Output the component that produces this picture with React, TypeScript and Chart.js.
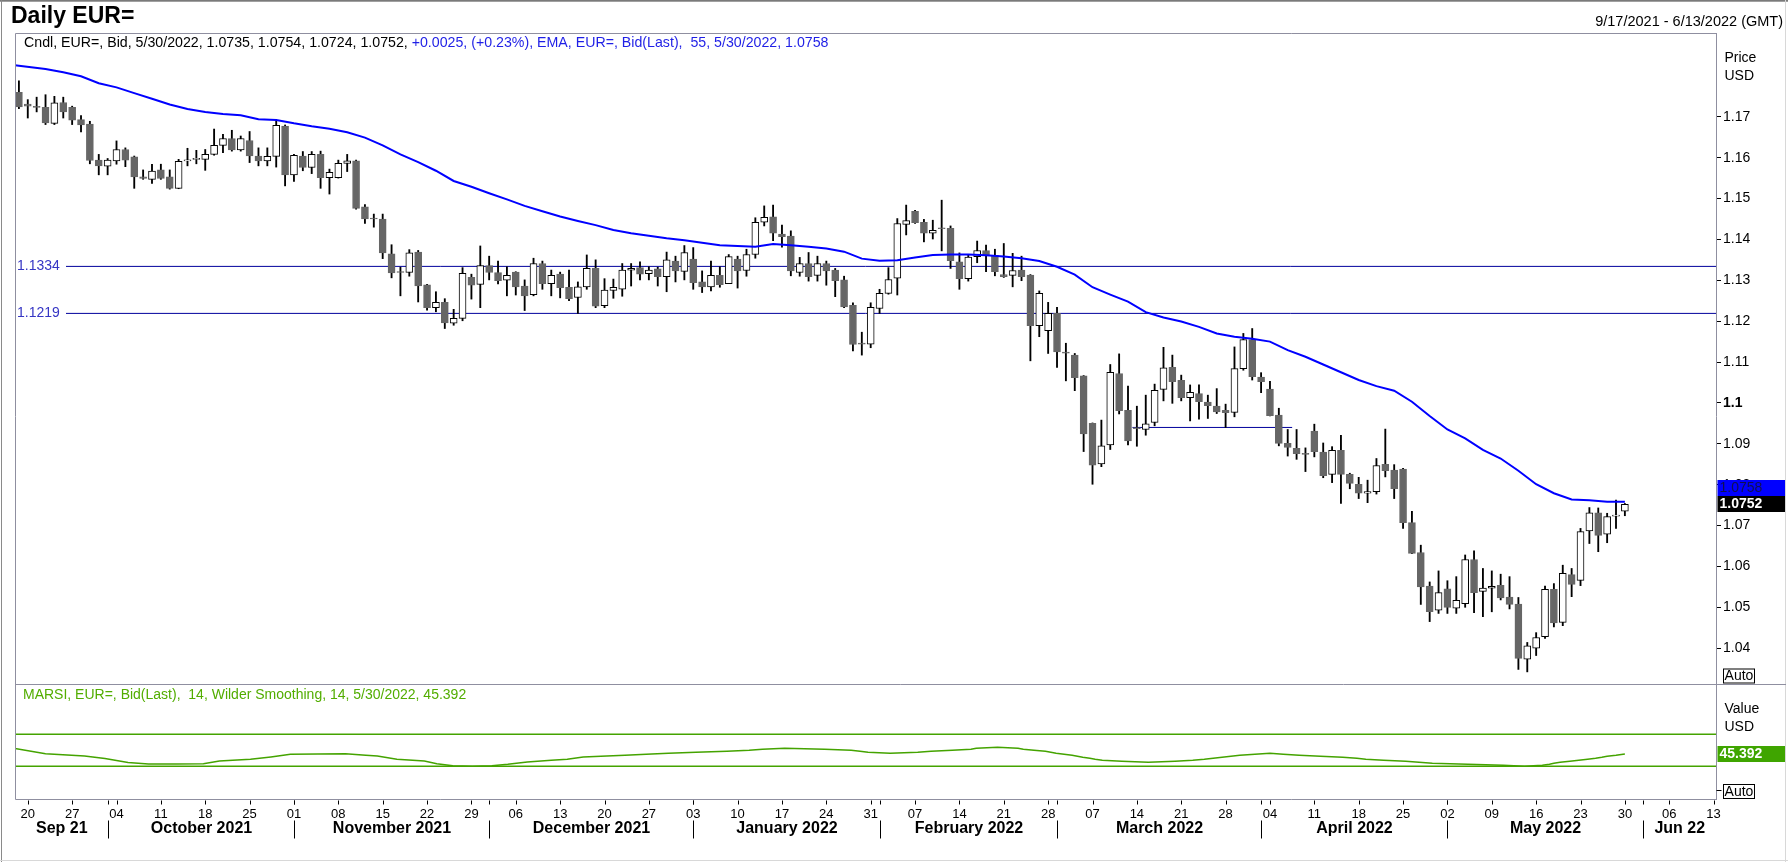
import { useEffect, useRef } from 'react';
import { Chart, registerables } from 'chart.js';

Chart.register(...registerables);

const W = 1788;
const H = 862;
const FONT = '"Liberation Sans", Arial, Helvetica, sans-serif';

// ---------- data (daily candles, index 0 = 9/17/2021 ... 181 = 5/30/2022) ----------
const opens = [
  1.1760, 1.1731, 1.1724, 1.1723, 1.1684, 1.1735, 1.1723, 1.1693, 1.1682, 1.1594,
  1.1579, 1.1592, 1.1620, 1.1602, 1.1553, 1.1547, 1.1570, 1.1553, 1.1525, 1.1592,
  1.1596, 1.1596, 1.1608, 1.1630, 1.1647, 1.1619, 1.1642, 1.1604, 1.1592, 1.1603,
  1.1677, 1.1558, 1.1604, 1.1576, 1.1608, 1.1551, 1.1551, 1.1586, 1.1592, 1.1480,
  1.1452, 1.1450, 1.1365, 1.1321, 1.1319, 1.1369, 1.1289, 1.1233, 1.1246, 1.1195,
  1.1207, 1.1307, 1.1290, 1.1336, 1.1319, 1.1300, 1.1320, 1.1286, 1.1265, 1.1341,
  1.1292, 1.1315, 1.1283, 1.1258, 1.1284, 1.1329, 1.1238, 1.1275, 1.1278, 1.1325,
  1.1331, 1.1316, 1.1328, 1.1309, 1.1347, 1.1322, 1.1352, 1.1296, 1.1284, 1.1312,
  1.1292, 1.1352, 1.1324, 1.1363, 1.1442, 1.1455, 1.1413, 1.1408, 1.1319, 1.1341,
  1.1312, 1.1341, 1.1325, 1.1301, 1.1239, 1.1145, 1.1144, 1.1231, 1.1268, 1.1305,
  1.1437, 1.1469, 1.1442, 1.1415, 1.1428, 1.1427, 1.1345, 1.1304, 1.1358, 1.1373,
  1.1361, 1.1314, 1.1312, 1.1325, 1.1313, 1.1189, 1.1177, 1.1219, 1.1124, 1.1117,
  1.1066, 1.0950, 1.0851, 1.0897, 1.1072, 1.0982, 1.0939, 1.0935, 1.0952, 1.1033,
  1.1087, 1.1055, 1.1013, 1.1023, 1.1002, 1.0992, 1.0982, 1.0977, 1.1084, 1.1155,
  1.1063, 1.1034, 1.0970, 1.0901, 1.0889, 1.0876, 1.0931, 1.0880, 1.0825, 1.0884,
  1.0825, 1.0801, 1.0779, 1.0783, 1.0850, 1.0836, 1.0838, 1.0707, 1.0634, 1.0552,
  1.0493, 1.0545, 1.0498, 1.0509, 1.0617, 1.0539, 1.0547, 1.0554, 1.0525, 1.0508,
  1.0373, 1.0400, 1.0428, 1.0544, 1.0463, 1.0580, 1.0566, 1.0687, 1.0731, 1.0679,
  1.0723, 1.0735,
];
const highs = [
  1.1788, 1.1742, 1.1748, 1.1754, 1.1750, 1.1748, 1.1726, 1.1703, 1.1689, 1.1608,
  1.1598, 1.1641, 1.1624, 1.1604, 1.1570, 1.1584, 1.1584, 1.1570, 1.1596, 1.1623,
  1.1618, 1.1620, 1.1670, 1.1657, 1.1667, 1.1653, 1.1664, 1.1624, 1.1624, 1.1691,
  1.1680, 1.1608, 1.1615, 1.1615, 1.1616, 1.1572, 1.1594, 1.1608, 1.1594, 1.1485,
  1.1462, 1.1462, 1.1387, 1.1332, 1.1375, 1.1373, 1.1290, 1.1272, 1.1255, 1.1229,
  1.1331, 1.1315, 1.1384, 1.1359, 1.1347, 1.1333, 1.1321, 1.1301, 1.1354, 1.1347,
  1.1325, 1.1320, 1.1325, 1.1296, 1.1362, 1.1350, 1.1304, 1.1303, 1.1341, 1.1341,
  1.1345, 1.1333, 1.1332, 1.1369, 1.1359, 1.1385, 1.1380, 1.1323, 1.1347, 1.1333,
  1.1363, 1.1359, 1.1376, 1.1453, 1.1482, 1.1484, 1.1435, 1.1421, 1.1356, 1.1368,
  1.1359, 1.1347, 1.1329, 1.1310, 1.1245, 1.1173, 1.1245, 1.1278, 1.1331, 1.1451,
  1.1484, 1.1471, 1.1449, 1.1447, 1.1496, 1.1433, 1.1367, 1.1361, 1.1396, 1.1386,
  1.1376, 1.1390, 1.1366, 1.1359, 1.1314, 1.1274, 1.1246, 1.1234, 1.1146, 1.1121,
  1.1067, 1.0951, 1.0958, 1.1094, 1.1120, 1.1041, 1.0992, 1.1019, 1.1046, 1.1136,
  1.1117, 1.1068, 1.1044, 1.1044, 1.1019, 1.1035, 1.0997, 1.1137, 1.1170, 1.1182,
  1.1074, 1.1053, 1.0987, 1.0935, 1.0935, 1.0890, 1.0948, 1.0902, 1.0893, 1.0921,
  1.0828, 1.0818, 1.0811, 1.0864, 1.0936, 1.0849, 1.0840, 1.0735, 1.0652, 1.0562,
  1.0589, 1.0565, 1.0575, 1.0628, 1.0638, 1.0595, 1.0589, 1.0581, 1.0575, 1.0524,
  1.0414, 1.0438, 1.0552, 1.0558, 1.0603, 1.0595, 1.0693, 1.0744, 1.0743, 1.0730,
  1.0762, 1.0754,
];
const lows = [
  1.1720, 1.1697, 1.1712, 1.1681, 1.1681, 1.1697, 1.1681, 1.1663, 1.1585, 1.1558,
  1.1558, 1.1584, 1.1578, 1.1525, 1.1547, 1.1537, 1.1547, 1.1523, 1.1524, 1.1580,
  1.1585, 1.1569, 1.1606, 1.1612, 1.1616, 1.1616, 1.1588, 1.1580, 1.1580, 1.1577,
  1.1531, 1.1542, 1.1568, 1.1561, 1.1525, 1.1511, 1.1550, 1.1566, 1.1474, 1.1439,
  1.1430, 1.1353, 1.1306, 1.1262, 1.1310, 1.1247, 1.1227, 1.1223, 1.1182, 1.1190,
  1.1201, 1.1254, 1.1233, 1.1301, 1.1291, 1.1262, 1.1264, 1.1226, 1.1262, 1.1278,
  1.1262, 1.1257, 1.1250, 1.1219, 1.1278, 1.1233, 1.1233, 1.1256, 1.1261, 1.1286,
  1.1301, 1.1301, 1.1286, 1.1272, 1.1296, 1.1301, 1.1278, 1.1270, 1.1274, 1.1283,
  1.1292, 1.1281, 1.1310, 1.1354, 1.1433, 1.1397, 1.1381, 1.1311, 1.1310, 1.1298,
  1.1298, 1.1288, 1.1260, 1.1233, 1.1127, 1.1117, 1.1135, 1.1219, 1.1266, 1.1264,
  1.1411, 1.1439, 1.1394, 1.1401, 1.1372, 1.1329, 1.1278, 1.1298, 1.1343, 1.1321,
  1.1311, 1.1307, 1.1284, 1.1299, 1.1103, 1.1162, 1.1121, 1.1087, 1.1054, 1.1030,
  1.0881, 1.0801, 1.0844, 1.0886, 1.0973, 1.0897, 1.0894, 1.0921, 1.0944, 1.1005,
  1.0999, 1.1005, 1.0956, 1.0960, 1.0962, 1.0974, 1.0940, 1.0966, 1.1080, 1.1056,
  1.1025, 1.0968, 1.0895, 1.0870, 1.0862, 1.0832, 1.0868, 1.0817, 1.0805, 1.0754,
  1.0790, 1.0766, 1.0756, 1.0777, 1.0819, 1.0766, 1.0693, 1.0631, 1.0507, 1.0465,
  1.0485, 1.0485, 1.0485, 1.0500, 1.0487, 1.0477, 1.0489, 1.0518, 1.0496, 1.0348,
  1.0342, 1.0382, 1.0424, 1.0452, 1.0455, 1.0526, 1.0553, 1.0656, 1.0636, 1.0658,
  1.0693, 1.0724,
];
const closes = [
  1.1724, 1.1726, 1.1723, 1.1685, 1.1734, 1.1712, 1.1692, 1.1680, 1.1593, 1.1580,
  1.1594, 1.1620, 1.1594, 1.1553, 1.1549, 1.1567, 1.1549, 1.1525, 1.1591, 1.1594,
  1.1597, 1.1608, 1.1630, 1.1647, 1.1619, 1.1647, 1.1604, 1.1592, 1.1603, 1.1679,
  1.1558, 1.1606, 1.1576, 1.1608, 1.1551, 1.1564, 1.1586, 1.1592, 1.1476, 1.1450,
  1.1450, 1.1367, 1.1318, 1.1319, 1.1367, 1.1286, 1.1233, 1.1246, 1.1196, 1.1207,
  1.1317, 1.1288, 1.1336, 1.1319, 1.1299, 1.1312, 1.1284, 1.1262, 1.1341, 1.1292,
  1.1312, 1.1282, 1.1255, 1.1284, 1.1329, 1.1237, 1.1276, 1.1283, 1.1325, 1.1329,
  1.1315, 1.1325, 1.1309, 1.1350, 1.1323, 1.1368, 1.1294, 1.1284, 1.1312, 1.1289,
  1.1358, 1.1323, 1.1363, 1.1442, 1.1454, 1.1415, 1.1407, 1.1323, 1.1341, 1.1309,
  1.1341, 1.1323, 1.1299, 1.1235, 1.1143, 1.1144, 1.1234, 1.1268, 1.1302, 1.1439,
  1.1446, 1.1441, 1.1415, 1.1422, 1.1426, 1.1348, 1.1304, 1.1357, 1.1373, 1.1362,
  1.1321, 1.1309, 1.1324, 1.1309, 1.1189, 1.1268, 1.1219, 1.1125, 1.1122, 1.1062,
  1.0924, 1.0848, 1.0895, 1.1075, 1.0981, 1.0907, 1.0937, 1.0949, 1.1031, 1.1086,
  1.1052, 1.1013, 1.1026, 1.1003, 1.0993, 1.0978, 1.0976, 1.1084, 1.1155, 1.1064,
  1.1052, 1.0969, 1.0901, 1.0891, 1.0876, 1.0874, 1.0881, 1.0822, 1.0884, 1.0825,
  1.0803, 1.0779, 1.0783, 1.0847, 1.0834, 1.0790, 1.0707, 1.0632, 1.0550, 1.0489,
  1.0536, 1.0500, 1.0517, 1.0617, 1.0536, 1.0547, 1.0551, 1.0523, 1.0507, 1.0375,
  1.0406, 1.0426, 1.0544, 1.0462, 1.0583, 1.0556, 1.0685, 1.0731, 1.0676, 1.0722,
  1.0724, 1.0752,
];

// EMA(55) at these day indices
const emaIdx = [
  -0.44, 0, 3, 5, 7, 9, 11, 13, 15, 17, 19, 21, 23, 25, 27, 29, 31, 33, 35, 37,
  39, 41, 43, 45, 47, 49, 51, 53, 55, 57, 59, 61, 63, 65, 67, 69, 71, 73, 75, 77,
  79, 81, 83, 85, 87, 89, 91, 93, 95, 97, 99, 101, 103, 105, 107, 109, 111, 113, 115, 117,
  119, 121, 123, 125, 127, 129, 131, 133, 135, 137, 139, 141, 143, 145, 147, 149, 151, 153, 155, 157,
  159, 161, 163, 165, 167, 169, 171, 173, 175, 177, 179, 181,
];
const emaVals = [
  1.1826, 1.1825, 1.1817, 1.1809, 1.1799, 1.1782, 1.1772, 1.1758, 1.1744, 1.1730,
  1.1719, 1.1712, 1.1707, 1.1704, 1.1694, 1.1692, 1.1684, 1.1677, 1.1671, 1.1662,
  1.1649, 1.1630, 1.1608, 1.1589, 1.1568, 1.1543, 1.1529, 1.1513, 1.1498, 1.1482,
  1.1469, 1.1456, 1.1445, 1.1435, 1.1423, 1.1415, 1.1409, 1.1403, 1.1398, 1.1392,
  1.1386, 1.1384, 1.1382, 1.1389, 1.1386, 1.1382, 1.1378, 1.1370, 1.1353, 1.1348,
  1.1349, 1.1356, 1.1362, 1.1363, 1.1363, 1.1361, 1.1358, 1.1354, 1.1347, 1.1333,
  1.1314, 1.1283, 1.1265, 1.1248, 1.1222, 1.1209, 1.1199, 1.1186, 1.1170, 1.1162,
  1.1157, 1.1150, 1.1129, 1.1113, 1.1094, 1.1075, 1.1056, 1.1041, 1.1030, 1.1003,
  1.0968, 1.0935, 1.0913, 1.0885, 1.0864, 1.0834, 1.0801, 1.0779, 1.0764, 1.0762,
  1.0758, 1.0758,
];

// MARSI
const rsiIdx = [
  -0.44, 3.0, 7.4, 9.7, 12.3, 14.6, 17.7, 20.8, 22.6, 26.1, 28.4, 30.6, 36.8, 39.1, 40.4,
  42.6, 45.7, 47.1, 48.9, 51.1, 53.3, 55.1, 57.3, 60.0, 61.8, 63.6, 65.6, 68.3, 70.7, 73.2,
  76.3, 79.8, 82.3, 83.8, 86.3, 90.8, 93.8, 94.8, 95.7, 98.2, 101.3, 102.8, 105.2, 107.3, 107.9,
  110.3, 112.6, 113.2, 114.4, 115.7, 116.3, 116.9, 117.8, 118.7, 119.3, 119.9, 120.7, 121.3, 122.1, 124.3,
  127.3, 130.3, 132.3, 133.6, 134.6, 135.6, 136.6, 137.6, 139.3, 141.0, 142.5, 144.3, 146.7, 149.2, 150.8,
  151.8, 153.8, 156.3, 157.8, 159.3, 163.3, 167.3, 169.7, 171.7, 172.5, 173.0, 173.7, 174.8, 175.8, 176.8,
  177.7, 178.4, 179.0, 180.0, 181,
];
const rsiVals = [
  52.1, 45.8, 42.9, 39.6, 34.6, 32.9, 32.9, 33.3, 36.7, 38.75, 41.7, 45, 45.8, 43.75, 42.9,
  38.75, 36.7, 33.3, 30.8, 30, 30.8, 32.5, 35.4, 37.5, 38.75, 41.7, 42.5, 43.75, 45, 46.25,
  47.5, 48.75, 50, 51.25, 52.5, 51.25, 50, 48.75, 47.5, 46.25, 47.5, 48.75, 50, 51.25, 52.5,
  53.75, 52.5, 51.25, 50, 48.75, 47.5, 46.25, 45, 43.75, 42.5, 41.25, 40, 38.75, 37.5, 36.25,
  35, 36.25, 37.5, 38.75, 40, 41.25, 42.5, 43.75, 45, 46.25, 45, 43.75, 42.5, 41.25, 40,
  38.75, 37.5, 36.25, 35, 33.75, 32.5, 31.25, 30, 31.25, 32.5, 33.75, 35, 36.25, 37.5, 38.75,
  40, 41.25, 42.5, 43.75, 45.392,
];
const rsiBands = [70, 30];

const levelValues = [1.1334, 1.1219];
const trendLevel = 1.094;
const trendFrom = 125.5;
const trendTo = 143.5;

const priceTicks = [1.04, 1.05, 1.06, 1.07, 1.08, 1.09, 1.1, 1.11, 1.12, 1.13, 1.14, 1.15, 1.16, 1.17];
const firstMonday = 1;
const weekLabels = [
  '20', '27', '04', '11', '18', '25', '01', '08', '15', '22', '29', '06', '13', '20', '27',
  '03', '10', '17', '24', '31', '07', '14', '21', '28', '07', '14', '21', '28', '04', '11',
  '18', '25', '02', '09', '16', '23', '30', '06', '13',
];
const monthLabels = [
  'Sep 21', 'October 2021', 'November 2021', 'December 2021', 'January 2022',
  'February 2022', 'March 2022', 'April 2022', 'May 2022', 'Jun 22',
];
const monthStarts = [10, 31, 53, 76, 97, 117, 140, 161, 183];

const lastClose = 1.0752;
const lastEma = 1.0758;
const lastRsi = 45.392;

const headerBlack = 'Cndl, EUR=, Bid, 5/30/2022, 1.0735, 1.0754, 1.0724, 1.0752, ';
const headerBlue = '+0.0025, (+0.23%), EMA, EUR=, Bid(Last),  55, 5/30/2022, 1.0758';
const rsiHeader = 'MARSI, EUR=, Bid(Last),  14, Wilder Smoothing, 14, 5/30/2022, 45.392';

// ---------- axis ranges ----------
const X_MIN = -0.44;
const X_MAX = 191.27;
const PRICE_MAX = 1.1905;
const PRICE_AXIS_MIN = 1.0031;
const PRICE_PANEL_MIN = 1.0312;
const RSI_MIN = -10.9;
const RSI_MAX = 946.6;

const FRAME = '#8f8fa0';
const GREEN = '#44a300';

function txt(ctx: CanvasRenderingContext2D, s: string, x: number, y: number, font: string, color: string, align: CanvasTextAlign = 'left') {
  ctx.font = font;
  ctx.fillStyle = color;
  ctx.textAlign = align;
  ctx.textBaseline = 'middle';
  ctx.fillText(s, x, y);
}

function hline(ctx: CanvasRenderingContext2D, x1: number, x2: number, y: number, color: string) {
  ctx.strokeStyle = color;
  ctx.lineWidth = 1;
  ctx.beginPath();
  ctx.moveTo(x1, y);
  ctx.lineTo(x2, y);
  ctx.stroke();
}
function vline(ctx: CanvasRenderingContext2D, x: number, y1: number, y2: number, color: string) {
  ctx.strokeStyle = color;
  ctx.lineWidth = 1;
  ctx.beginPath();
  ctx.moveTo(x, y1);
  ctx.lineTo(x, y2);
  ctx.stroke();
}

const overlay = {
  id: 'overlay',
  beforeDraw(chart: any) {
    const ctx = chart.ctx as CanvasRenderingContext2D;
    ctx.save();
    ctx.fillStyle = '#ffffff';
    ctx.fillRect(0, 0, chart.width, chart.height);
    ctx.restore();
  },
  afterDraw(chart: any) {
    const ctx = chart.ctx as CanvasRenderingContext2D;
    const xs = chart.scales.x;
    const ys = chart.scales.y;
    const y2 = chart.scales.y2;
    const { left, right, top, bottom } = chart.chartArea;
    const L = Math.round(left) + 0.5;
    const R = Math.round(right) + 0.5;
    const T = Math.round(top) + 0.5;
    const B = Math.round(bottom) + 0.5;
    const D = Math.round(ys.getPixelForValue(PRICE_PANEL_MIN)) + 0.5;
    ctx.save();

    // outer frame
    hline(ctx, 0, W, 0.5, '#7a7a7a');
    hline(ctx, 0, W, 1.5, '#a0a0a0');
    vline(ctx, 1.5, 0, H, '#8a8a8a');
    vline(ctx, W - 2.5, 0, H, '#d8d8d8');
    hline(ctx, 0, W, H - 1.5, '#d8d8d8');

    // title
    txt(ctx, 'Daily EUR=', 11, 17, `bold 23px ${FONT}`, '#000');
    txt(ctx, '9/17/2021 - 6/13/2022 (GMT)', 1783, 22, `14.5px ${FONT}`, '#000', 'right');

    // panel box
    hline(ctx, L, R, T, FRAME);
    vline(ctx, L, T, B, FRAME);
    hline(ctx, L, W - 2, D, FRAME);
    hline(ctx, L, R, B, FRAME);

    // header texts
    const hf = `14.2px ${FONT}`;
    ctx.font = hf;
    txt(ctx, headerBlack, 24, 43, hf, '#000');
    ctx.font = hf;
    const wb = ctx.measureText(headerBlack).width;
    txt(ctx, headerBlue, 24 + wb, 43, hf, '#1f1fe6');
    txt(ctx, rsiHeader, 23, D + 11, `14px ${FONT}`, '#52ad00');

    // level labels
    for (const v of levelValues) {
      const py = ys.getPixelForValue(v);
      ctx.fillStyle = '#fff';
      ctx.fillRect(L + 0.5, py - 8, 50, 16);
      txt(ctx, v.toFixed(4), 17, py, `14px ${FONT}`, '#3535c4');
    }

    // right axis titles
    const ax = R + 8;
    txt(ctx, 'Price', ax, 58, `14px ${FONT}`, '#000');
    txt(ctx, 'USD', ax, 76, `14px ${FONT}`, '#000');
    txt(ctx, 'Value', ax, D + 25, `14px ${FONT}`, '#000');
    txt(ctx, 'USD', ax, D + 43, `14px ${FONT}`, '#000');

    // RSI axis tick at 0
    const y0 = Math.round(y2.getPixelForValue(0)) + 0.5;
    hline(ctx, R, R + 5, y0, '#000');

    // Auto boxes
    const autoBox = (yb: number) => {
      ctx.fillStyle = '#fff';
      ctx.fillRect(R + 7, yb - 14, 31, 14);
      ctx.strokeStyle = '#000';
      ctx.lineWidth = 1;
      ctx.strokeRect(R + 7, yb - 14, 31, 14);
      txt(ctx, 'Auto', R + 22.5, yb - 6.5, `14px ${FONT}`, '#000', 'center');
    };
    autoBox(D - 1.5);
    autoBox(B - 1);

    // value boxes
    const bx = R + 1;
    const bw = W - 3 - bx;
    const cy = Math.round(ys.getPixelForValue(lastClose));
    ctx.fillStyle = '#000';
    ctx.fillRect(bx, cy - 8, bw, 16);
    txt(ctx, lastClose.toFixed(4), bx + 2, cy, `bold 14px ${FONT}`, '#fff');
    let ey = Math.round(ys.getPixelForValue(lastEma));
    if (ey > cy - 16) ey = cy - 16;
    ctx.fillStyle = '#0000ff';
    ctx.fillRect(bx, ey - 8, bw, 16);
    txt(ctx, lastEma.toFixed(4), bx + 2, ey, `14px ${FONT}`, '#101050');
    const ry = Math.round(y2.getPixelForValue(lastRsi));
    ctx.fillStyle = '#3fa500';
    ctx.fillRect(bx, ry - 8, bw, 16);
    txt(ctx, lastRsi.toFixed(3), bx + 2, ry, `bold 14px ${FONT}`, '#fff');

    // weekly tick marks under the axis
    for (const t of xs.ticks) {
      const px = Math.round(xs.getPixelForValue(t.value)) + 0.5;
      vline(ctx, px, B + 1, B + 5, '#000');
    }

    // month separators and labels
    const seps = monthStarts.map((m) => Math.round(xs.getPixelForValue(m)) + 0.5);
    for (const s of seps) {
      vline(ctx, s, B + 1, B + 5, '#000');
      vline(ctx, s, B + 21, B + 39, '#000');
    }
    const edges = [left, ...seps, right];
    monthLabels.forEach((m, k) => {
      const cx = (edges[k] + edges[k + 1]) / 2;
      txt(ctx, m, cx, B + 29, `bold 16px ${FONT}`, '#000', 'center');
    });

    ctx.restore();
  },
};

export default function App() {
  const ref = useRef<HTMLCanvasElement | null>(null);

  useEffect(() => {
    const canvas = ref.current;
    if (!canvas) return;

    const bodyData = opens.map((o, i) => ({ x: i, y: [Math.min(o, closes[i]), Math.max(o, closes[i])] }));
    const wickData = lows.map((l, i) => ({ x: i, y: [l, highs[i]] }));
    const up = closes.map((c, i) => c > opens[i]);

    const flat = (v: number, a: number, b: number) => [{ x: a, y: v }, { x: b, y: v }];

    const chart = new Chart(canvas, {
      type: 'bar',
      data: {
        datasets: [
          {
            type: 'line',
            data: emaIdx.map((x, k) => ({ x, y: emaVals[k] })),
            borderColor: '#0000ff',
            borderWidth: 2,
            pointRadius: 0,
            tension: 0,
            yAxisID: 'y',
            order: 0,
          } as any,
          {
            type: 'bar',
            data: bodyData,
            backgroundColor: up.map((u) => (u ? '#ffffff' : '#666666')),
            borderColor: up.map((u) => (u ? '#000000' : '#666666')),
            borderWidth: 1,
            borderSkipped: false,
            barThickness: 7,
            minBarLength: 1,
            grouped: false,
            yAxisID: 'y',
            order: 1,
          } as any,
          {
            type: 'bar',
            data: wickData,
            backgroundColor: '#000000',
            borderWidth: 0,
            barThickness: 1.2,
            grouped: false,
            yAxisID: 'y',
            order: 2,
          } as any,
          ...levelValues.map((v) => ({
            type: 'line',
            data: flat(v, X_MIN, X_MAX),
            borderColor: '#00009c',
            borderWidth: 1,
            pointRadius: 0,
            yAxisID: 'y',
            order: 3,
          })) as any[],
          {
            type: 'line',
            data: flat(trendLevel, trendFrom, trendTo),
            borderColor: '#00009c',
            borderWidth: 1,
            pointRadius: 0,
            yAxisID: 'y',
            order: 3,
          } as any,
          {
            type: 'line',
            data: rsiIdx.map((x, k) => ({ x, y: rsiVals[k] })),
            borderColor: GREEN,
            borderWidth: 1.5,
            pointRadius: 0,
            tension: 0,
            yAxisID: 'y2',
            order: 4,
          } as any,
          ...rsiBands.map((v) => ({
            type: 'line',
            data: flat(v, X_MIN, X_MAX),
            borderColor: GREEN,
            borderWidth: 1.5,
            pointRadius: 0,
            yAxisID: 'y2',
            order: 5,
          })) as any[],
        ],
      },
      options: {
        animation: false,
        responsive: false,
        devicePixelRatio: 1,
        events: [],
        layout: { padding: { left: 15, top: 33, right: 0, bottom: 0 } },
        plugins: {
          legend: { display: false },
          tooltip: { enabled: false },
          title: { display: false },
        },
        scales: {
          x: {
            type: 'linear',
            min: X_MIN,
            max: X_MAX,
            offset: false,
            grid: { display: false },
            border: { display: false },
            afterBuildTicks: (scale: any) => {
              scale.ticks = weekLabels.map((_, k) => ({ value: firstMonday + 5 * k }));
            },
            afterFit: (scale: any) => {
              scale.height = H - 799;
            },
            ticks: {
              autoSkip: false,
              maxRotation: 0,
              minRotation: 0,
              padding: 0,
              color: '#000',
              font: { family: FONT, size: 13 },
              callback: (_v: any, index: number) => weekLabels[index],
            },
          },
          y: {
            type: 'linear',
            position: 'right',
            min: PRICE_AXIS_MIN,
            max: PRICE_MAX,
            grid: { drawOnChartArea: false, drawTicks: true, tickLength: 5, color: '#000' },
            border: { display: true, color: FRAME },
            afterBuildTicks: (scale: any) => {
              scale.ticks = priceTicks.map((v) => ({ value: v }));
            },
            afterFit: (scale: any) => {
              scale.width = 72;
            },
            ticks: {
              padding: 2,
              color: '#000',
              font: (c: any) => ({
                family: FONT,
                size: 14,
                weight: c.tick && Math.abs(c.tick.value - 1.1) < 1e-9 ? 'bold' : 'normal',
              }),
              callback: (v: any) => String(Math.round(Number(v) * 100) / 100),
            },
          },
          y2: {
            type: 'linear',
            display: false,
            min: RSI_MIN,
            max: RSI_MAX,
          },
        },
      } as any,
      plugins: [overlay as any],
    });

    return () => chart.destroy();
  }, []);

  return (
    <div style={{ position: 'fixed', left: 0, top: 0, width: W, height: H, background: '#fff' }}>
      <canvas ref={ref} width={W} height={H} style={{ width: W, height: H, display: 'block' }} />
    </div>
  );
}
